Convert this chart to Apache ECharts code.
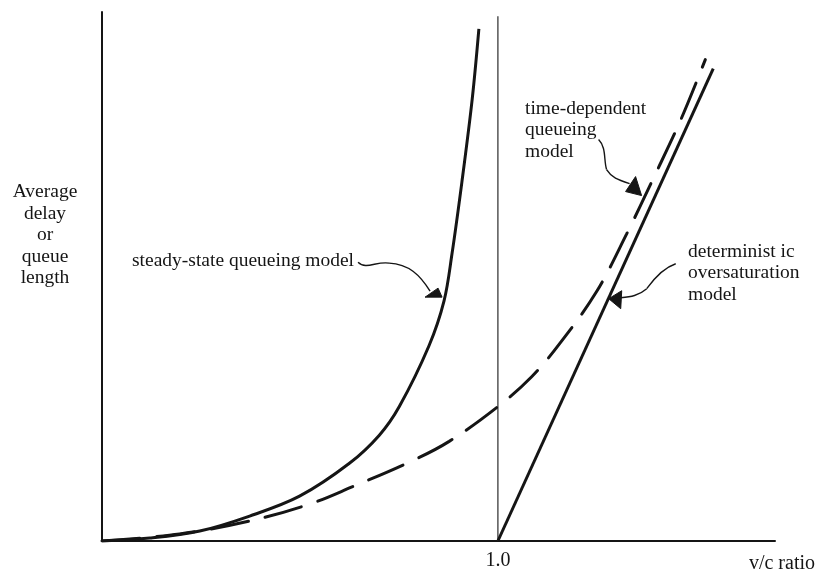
<!DOCTYPE html>
<html>
<head>
<meta charset="utf-8">
<script src="https://cdn.jsdelivr.net/npm/echarts@6/dist/echarts.min.js"></script>
<style>
html,body{margin:0;padding:0;background:#fff;}
#c{width:817px;height:571px;}
</style>
</head>
<body>
<div id="c"></div>
<script>
// ---- data (x = v/c ratio, y = relative delay) ----
var steadyState = [
  [0, 0], [0.121, 0.56], [0.247, 1.88], [0.373, 4.71], [0.499, 8.47],
  [0.625, 14.69], [0.700, 19.96], [0.751, 25.42], [0.826, 36.91], [0.864, 45.39],
  [0.884, 54.24], [0.909, 67.80], [0.935, 83.43], [0.952, 96.80]
];
var timeDependent = [
  [0, 0], [0.196, 1.32], [0.373, 3.77], [0.524, 6.97], [0.630, 10.17], [0.781, 15.07],
  [0.877, 18.83], [1.0, 25.4], [1.086, 31.1], [1.156, 37.3], [1.249, 47.1],
  [1.325, 58.0], [1.395, 68.9], [1.463, 79.8], [1.524, 91.0]
];
var deterministic = [[1.0, 0], [1.544, 89.3]];
var capacityLine = [[1.0, 0], [1.0, 99.2]];
var xTickLabels = {1: '1.0'};
var yTitle = 'Average\ndelay\nor\nqueue\nlength';
var xTitle = 'v/c ratio';
var labels = {
  steady: 'steady-state queueing model',
  timeDep: 'time-dependent\nqueueing\nmodel',
  determ: 'determinist ic\noversaturation\nmodel'
};
// arrow tips, in data coordinates
var tips = {steady: [0.859, 46.1], timeDep: [1.363, 65.3], determ: [1.280, 45.8]};

var FONT = '"Liberation Serif", "DejaVu Serif", serif';
var INK = '#151515';
var FS = 19.5;

var chart = echarts.init(document.getElementById('c'), null, {renderer: 'canvas'});
chart.setOption({
  animation: false,
  backgroundColor: '#fff',
  grid: {left: 102, right: 42, top: 12, bottom: 28},
  xAxis: {
    type: 'value', min: 0, max: 1.7, interval: 0.5,
    axisLine: {lineStyle: {color: INK, width: 2}},
    axisTick: {show: false}, splitLine: {show: false},
    axisLabel: {
      margin: 10, fontFamily: FONT, fontSize: 20, color: INK,
      formatter: function (v) { return xTickLabels[v] || ''; }
    }
  },
  yAxis: {
    type: 'value', min: 0, max: 100,
    axisLine: {show: true, lineStyle: {color: INK, width: 2}},
    axisTick: {show: false}, axisLabel: {show: false}, splitLine: {show: false}
  },
  series: [
    {type: 'line', data: capacityLine, symbol: 'none', silent: true,
     lineStyle: {color: '#555', width: 1.5}},
    {type: 'line', data: steadyState, symbol: 'none', smooth: 0.35,
     lineStyle: {color: INK, width: 3}},
    {type: 'line', data: timeDependent, symbol: 'none', smooth: 0.35,
     lineStyle: {color: INK, width: 3, type: [38, 17], cap: 'round'}},
    {type: 'line', data: deterministic, symbol: 'none',
     lineStyle: {color: INK, width: 3}}
  ]
});

function px(p) { return chart.convertToPixel({xAxisIndex: 0, yAxisIndex: 0}, p); }
function arrow(tip, curves, head) {
  var t = px(tip);
  var els = [];
  curves.forEach(function (c) {
    els.push({type: 'bezierCurve', silent: true,
      shape: {x1: t[0] + c[0], y1: t[1] + c[1], cpx1: t[0] + c[2], cpy1: t[1] + c[3],
              cpx2: t[0] + c[4], cpy2: t[1] + c[5], x2: t[0] + c[6], y2: t[1] + c[7]},
      style: {stroke: INK, lineWidth: 1.4, fill: null}});
  });
  els.push({type: 'polygon', silent: true,
    shape: {points: head.map(function (h) { return [t[0] + h[0], t[1] + h[1]]; })},
    style: {fill: INK, stroke: INK, lineWidth: 1}});
  return els;
}
function txt(x, y, s, align, fs) {
  return {type: 'text', x: x, y: y, silent: true,
    style: {text: s, fontFamily: FONT, fontSize: fs || FS, fill: INK, align: align || 'left',
            verticalAlign: 'middle', lineHeight: 21.5}};
}

var g = [];
g.push(txt(45, 235, yTitle, 'center'));
g.push(txt(815, 564, xTitle, 'right', 20));
g.push(txt(132, 261, labels.steady, 'left'));
g.push(txt(525, 130, labels.timeDep, 'left'));
g.push(txt(688, 273, labels.determ, 'left'));
g = g.concat(arrow(tips.steady,
  [[-84, -35, -76, -27, -66, -36, -53, -34],
   [-53, -34, -33, -33, -22, -22, -12, -6]],
  [[0, 0], [-17, 0], [-4, -9]]));
g = g.concat(arrow(tips.timeDep,
  [[-43, -56, -35, -48, -38, -35, -35, -26],
   [-35, -26, -30, -18, -24, -16, -12, -12]],
  [[0, 0], [-16, -4], [-6, -19]]));
g = g.concat(arrow(tips.determ,
  [[67, -35, 58, -32, 48, -24, 38, -10],
   [38, -10, 30, -3, 22, -2, 12, -1]],
  [[0, 0], [12, 10], [13, -8]]));
chart.setOption({graphic: g});
</script>
</body>
</html>
